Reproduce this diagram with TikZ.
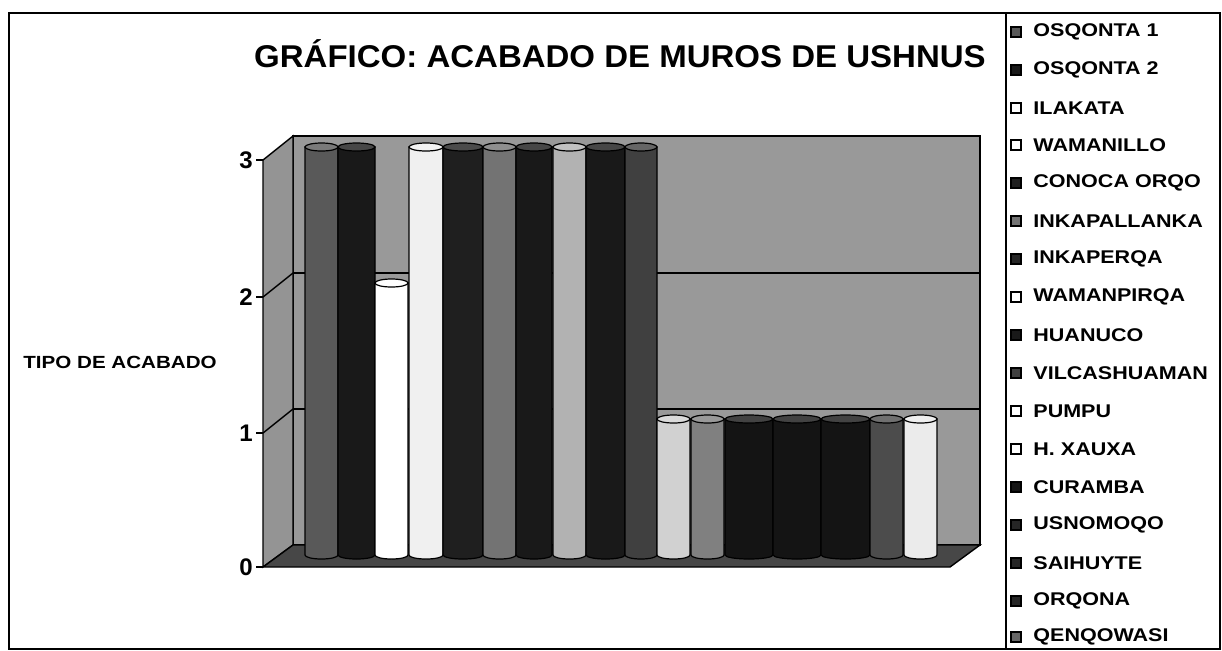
\documentclass[tikz,border=0pt]{standalone}
\usepackage{fontspec}
\setmainfont{Liberation Sans}
\usepackage{graphicx}
\newcommand\cylbar[4]{%
  \pgfmathsetmacro\cxc{(#1+#2)/2}%
  \pgfmathsetmacro\crx{(#2-#1)/2}%
  \pgfmathsetmacro\cyt{555-136*#3}%
  \colorlet{cylbase}{#4}%
  \filldraw[barline, fill=cylbase] (#1,\cyt) -- (#1,555)
     arc[start angle=180, end angle=0, x radius=\crx, y radius=4] -- (#2,\cyt) -- cycle;
  \filldraw[barline, fill=cylbase!80!white] (\cxc,\cyt) ellipse[x radius=\crx, y radius=4];
}
\newcommand\legitem[4]{%
  \filldraw[draw=black, line width=0.6pt, fill=#3] (1011,#2-5) rectangle (1021,#2+5);
  \node[legtext] (#4) at (1033,#2) {\scalebox{1.17}[1]{#1}};
}
\begin{document}
\begin{tikzpicture}[x=0.5pt, y=-0.5pt,
  frame/.style={draw=black, line width=1pt},
  wallline/.style={draw=black, line width=0.7pt},
  barline/.style={draw=black, line width=0.6pt},
  legtext/.style={anchor=west, inner sep=0pt, font=\fontsize{9.2}{11}\selectfont\bfseries},
  ticklab/.style={anchor=east, inner sep=0pt, font=\fontsize{12}{14}\selectfont\bfseries},
  titlestyle/.style={inner sep=0pt, font=\fontsize{15}{18}\selectfont\bfseries},
  ylabstyle/.style={anchor=west, inner sep=0pt, font=\fontsize{8.8}{10}\selectfont\bfseries}]
\useasboundingbox (0,0) rectangle (1222,650);
% outer frame and legend box
\draw[frame] (9,13) rectangle (1220,649);
\draw[frame] (1006,13) -- (1006,649);
% title and axis label
\node[titlestyle] (title) at (620,54) {\scalebox{1.1}[1.05]{GRÁFICO: ACABADO DE MUROS DE USHNUS}};
\node[ylabstyle] (ylab) at (23,362) {\scalebox{1.17}[1]{TIPO DE ACABADO}};
% walls
\filldraw[wallline, fill=black!40] (293,136) rectangle (980,545);
\filldraw[wallline, fill=black!42] (263,160) -- (293,136) -- (293,545) -- (263,567) -- cycle;
\filldraw[wallline, fill=black!72] (263,567) -- (293,545) -- (980,545) -- (950,567) -- cycle;
\draw[wallline] (293,273) -- (980,273);
\draw[wallline] (293,409) -- (980,409);
\draw[wallline] (263,297) -- (293,273);
\draw[wallline] (263,433) -- (293,409);
% axis ticks and labels
\foreach \v/\yy in {0/567,1/433,2/297,3/160}{
  \draw[wallline] (256,\yy) -- (263,\yy);
  \node[ticklab] (t\v) at (253,\yy) {\v};
}
% bars
\cylbar{305}{338}{3}{black!65}
\cylbar{338}{375}{3}{black!90}
\cylbar{375}{408}{2}{white}
\cylbar{409}{443}{3}{black!6}
\cylbar{443}{483}{3}{black!88}
\cylbar{483}{516}{3}{black!55}
\cylbar{516}{552}{3}{black!90}
\cylbar{553}{586}{3}{black!30}
\cylbar{586}{625}{3}{black!90}
\cylbar{625}{657}{3}{black!75}
\cylbar{657}{690}{1}{black!18}
\cylbar{691}{724}{1}{black!50}
\cylbar{725}{773}{1}{black!92}
\cylbar{773}{821}{1}{black!92}
\cylbar{821}{870}{1}{black!92}
\cylbar{870}{903}{1}{black!70}
\cylbar{904}{937}{1}{black!8}
% legend
\legitem{OSQONTA 1}{32}{black!65}{l1}
\legitem{OSQONTA 2}{70}{black!90}{l2}
\legitem{ILAKATA}{108}{white}{l3}
\legitem{WAMANILLO}{145}{white}{l4}
\legitem{CONOCA ORQO}{183}{black!88}{l5}
\legitem{INKAPALLANKA}{221}{black!55}{l6}
\legitem{INKAPERQA}{259}{black!85}{l7}
\legitem{WAMANPIRQA}{297}{white}{l8}
\legitem{HUANUCO}{335}{black!90}{l9}
\legitem{VILCASHUAMAN}{373}{black!75}{l10}
\legitem{PUMPU}{411}{white}{l11}
\legitem{H. XAUXA}{449}{white}{l12}
\legitem{CURAMBA}{487}{black!92}{l13}
\legitem{USNOMOQO}{525}{black!85}{l14}
\legitem{SAIHUYTE}{563}{black!85}{l15}
\legitem{ORQONA}{601}{black!85}{l16}
\legitem{QENQOWASI}{637}{black!60}{l17}
\end{tikzpicture}
\end{document}
